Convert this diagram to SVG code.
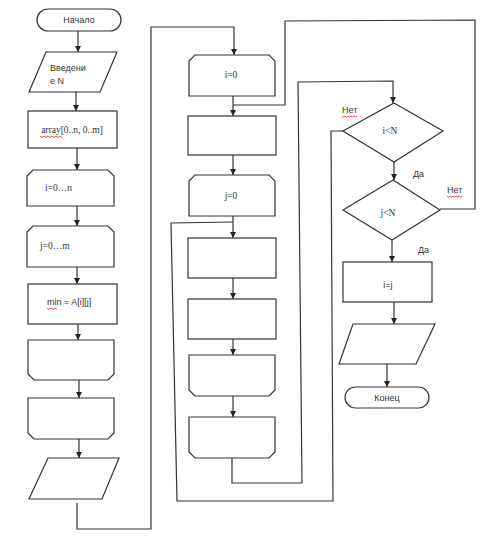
<svg xmlns="http://www.w3.org/2000/svg" width="500" height="537" viewBox="0 0 500 537">
<defs>
<marker id="ah" viewBox="0 0 6 6" refX="6" refY="3" markerWidth="6" markerHeight="6" markerUnits="userSpaceOnUse" orient="auto">
<path d="M0,0 L6,3 L0,6 Z" fill="#222"/>
</marker>
<style>
.s{fill:#fff;stroke:#333;stroke-width:1.2}
.c{fill:none;stroke:#333;stroke-width:1.2}
.a{fill:none;stroke:#333;stroke-width:1.2;marker-end:url(#ah)}
.t{font-family:"Liberation Sans",Arial,sans-serif;font-size:9px;fill:#333}
.r{font-family:"Liberation Serif","Times New Roman",serif;font-size:9.5px;fill:#333}
.m{text-anchor:middle}
.w{fill:none;stroke:#d22;stroke-width:0.8}
</style>
</defs>
<rect width="500" height="537" fill="#fff"/>
<g id="connectors">
<path class="a" d="M78,31 L78,52"/>
<path class="a" d="M76,92 L76,111"/>
<path class="a" d="M77,148 L77,170"/>
<path class="a" d="M77,206 L77,226"/>
<path class="a" d="M77,267 L77,284"/>
<path class="a" d="M78,324 L78,340"/>
<path class="a" d="M79,380 L79,398"/>
<path class="a" d="M79,439 L79,458"/>
<path class="a" d="M77,503 L77,529 L151,529 L151,27 L234,27 L234,55"/>
<path class="a" d="M233,96 L233,116"/>
<path class="c" d="M440,209 L475,209 L475,20 L285,21 L285,105 L233,105"/>
<path class="a" d="M233,155 L233,175"/>
<path class="a" d="M233,216 L233,238"/>
<path class="c" d="M343,131 L331,131 L333,501 L177,501 L171,223 L233,222"/>
<path class="a" d="M233,278 L233,299"/>
<path class="a" d="M233,339 L233,355"/>
<path class="a" d="M233,396 L233,417"/>
<path class="a" d="M232,458 L232,483 L302,483 L298,82 L393,81 L393,103"/>
<path class="a" d="M394,162 L394,180"/>
<path class="a" d="M392,240 L392,262"/>
<path class="a" d="M394,302 L394,324"/>
<path class="a" d="M387,364 L387,387"/>
</g>
<g id="start">
<rect class="s" x="37" y="9" width="84" height="22" rx="11"/>
<text class="t m" x="79" y="23">Начало</text>
</g>
<g id="input-n">
<path class="s" d="M46,52 L117,52 L100,92 L29,92 Z"/>
<text class="t" x="50" y="71">Введени</text>
<text class="t" x="50" y="84">е N</text>
</g>
<g id="array">
<rect class="s" x="28" y="111" width="89" height="37"/>
<text class="r m" x="72" y="133">array[0..n, 0..m]</text>
<path class="w" d="M40,136 l2,1.5 l2,-1.5 l2,1.5 l2,-1.5 l2,1.5 l2,-1.5 l2,1.5 l2,-1.5 l2,1.5 l2,-1.5 l2,1.5"/>
</g>
<g id="loop-i">
<path class="s" d="M33,170 L108,170 L114,176 L114,206 L27,206 L27,176 Z"/>
<text class="r" x="45" y="191">i=0…n</text>
</g>
<g id="loop-j">
<path class="s" d="M33,226 L108,226 L114,232 L114,267 L27,267 L27,232 Z"/>
<text class="r" x="40" y="249">j=0…m</text>
</g>
<g id="min">
<rect class="s" x="28" y="284" width="89" height="40"/>
<text class="t" x="47" y="305">min = A[i][j]</text>
<path class="w" d="M47,308 l2,1.5 l2,-1.5 l2,1.5 l2,-1.5 l2,1.5"/>
</g>
<g id="loop-j-end">
<path class="s" d="M28,340 L114,340 L114,374 L108,380 L34,380 L28,374 Z"/>
</g>
<g id="loop-i-end">
<path class="s" d="M28,398 L114,398 L114,433 L108,439 L34,439 L28,433 Z"/>
</g>
<g id="output-1">
<path class="s" d="M48,458 L119,458 L102,499 L29,499 Z"/>
</g>
<g id="loop-i0">
<path class="s" d="M195,55 L269,55 L275,61 L275,96 L189,96 L189,61 Z"/>
<text class="r m" x="231" y="78">i=0</text>
</g>
<g id="box-m1">
<rect class="s" x="188" y="116" width="88" height="39"/>
</g>
<g id="loop-j0">
<path class="s" d="M195,175 L269,175 L275,181 L275,216 L189,216 L189,181 Z"/>
<text class="r m" x="231" y="199">j=0</text>
</g>
<g id="box-m2">
<rect class="s" x="188" y="238" width="88" height="40"/>
</g>
<g id="box-m3">
<rect class="s" x="188" y="299" width="88" height="40"/>
</g>
<g id="loop-end-m1">
<path class="s" d="M189,355 L275,355 L275,390 L269,396 L195,396 L189,390 Z"/>
</g>
<g id="loop-end-m2">
<path class="s" d="M189,417 L275,417 L275,452 L269,458 L195,458 L189,452 Z"/>
</g>
<g id="cond-i">
<path class="s" d="M394,103 L443,131 L394,162 L343,131 Z"/>
<text class="r m" x="390" y="134">i&lt;N</text>
<text class="t" x="342" y="113">Нет</text>
<path class="w" d="M342,116 l1.5,1.2 l1.5,-1.2 l1.5,1.2 l1.5,-1.2 l1.5,1.2 l1.5,-1.2 l1.5,1.2 l1.5,-1.2 l1.5,1.2 l1.5,-1.2"/>
<text class="t" x="413" y="177">Да</text>
</g>
<g id="cond-j">
<path class="s" d="M393,180 L440,210 L392,240 L343,210 Z"/>
<text class="r m" x="388" y="216">j&lt;N</text>
<text class="t" x="447" y="193">Нет</text>
<path class="w" d="M447,196 l1.5,1.2 l1.5,-1.2 l1.5,1.2 l1.5,-1.2 l1.5,1.2 l1.5,-1.2 l1.5,1.2 l1.5,-1.2 l1.5,1.2 l1.5,-1.2"/>
<text class="t" x="418" y="253">Да</text>
</g>
<g id="assign">
<rect class="s" x="343" y="262" width="89" height="40"/>
<text class="t m" x="388" y="288">i=j</text>
</g>
<g id="output-2">
<path class="s" d="M353,324 L435,324 L416,364 L339,364 Z"/>
</g>
<g id="end">
<rect class="s" x="345" y="387" width="84" height="21" rx="10.5"/>
<text class="t m" x="387" y="401">Конец</text>
</g>
</svg>
